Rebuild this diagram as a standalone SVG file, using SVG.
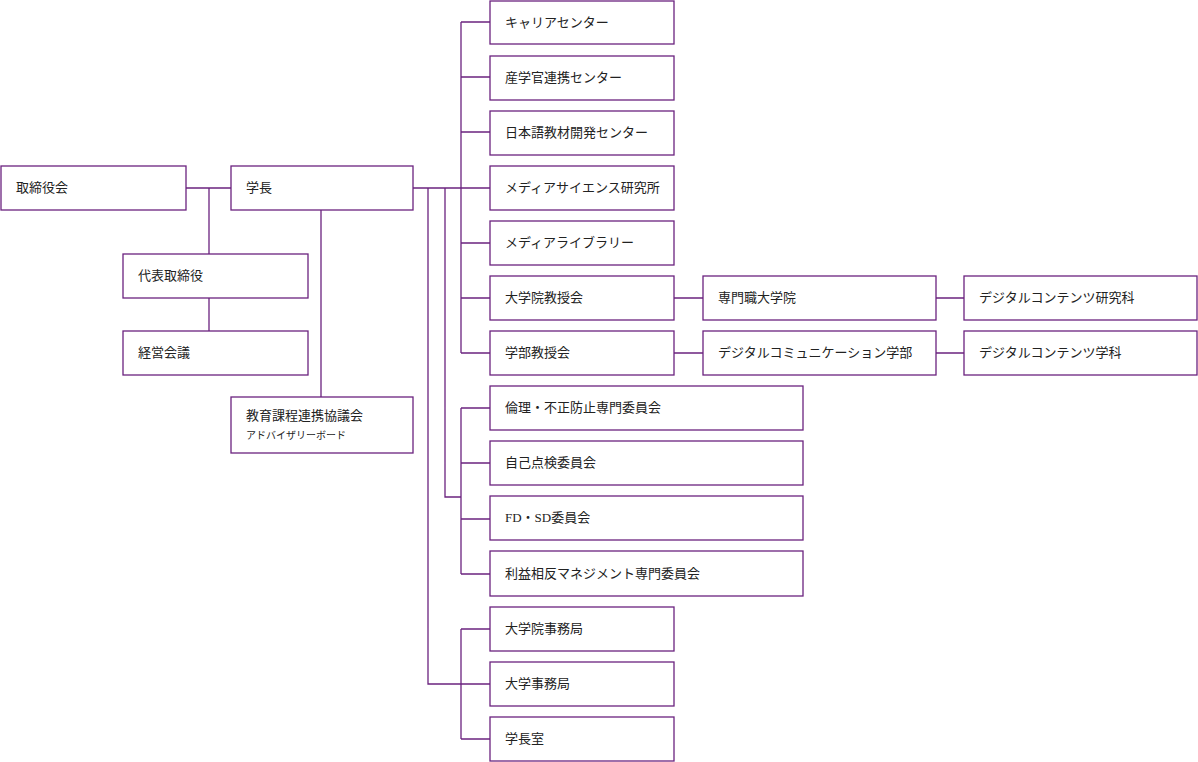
<svg xmlns="http://www.w3.org/2000/svg" width="1198" height="762" viewBox="0 0 1198 762">
<style>
rect{fill:#fff;stroke:#6b237f;stroke-width:1.3}
.c path{fill:none;stroke:#6b237f;stroke-width:1.3}
text{font-family:"Liberation Serif","Noto Sans CJK JP",serif;font-size:13px;fill:#222}
.s{font-size:10px}
</style>
<rect x="0" y="0" width="1198" height="762" style="stroke:none"/>
<g class="c">
<path d="M186 188H231M209 188V254M209 298V331M321 210V397"/>
<path d="M413 188H490M461 22V353M461 22H490M461 77H490M461 132H490M461 243H490M461 298H490M461 353H490"/>
<path d="M445 188V497H461M461 408V574M461 408H490M461 463H490M461 519H490M461 574H490"/>
<path d="M428 188V684H490M461 629V739M461 629H490M461 739H490"/>
<path d="M674 298H703M936 298H964M674 353H703M936 353H964"/>
</g>
<g id="n1"><rect x="1" y="166" width="185" height="44"/><text x="16" y="192">取締役会</text></g>
<g id="n2"><rect x="231" y="166" width="182" height="44"/><text x="246" y="192">学長</text></g>
<g id="n3"><rect x="123" y="254" width="185" height="44"/><text x="138" y="280">代表取締役</text></g>
<g id="n4"><rect x="123" y="331" width="185" height="44"/><text x="138" y="357">経営会議</text></g>
<g id="n5"><rect x="231" y="397" width="182" height="56"/><text x="246" y="420">教育課程連携協議会</text><text class="s" x="246" y="439">アドバイザリーボード</text></g>
<g id="r1"><rect x="490" y="1" width="184" height="43"/><text x="505" y="27">キャリアセンター</text></g>
<g id="r2"><rect x="490" y="56" width="184" height="44"/><text x="505" y="82">産学官連携センター</text></g>
<g id="r3"><rect x="490" y="111" width="184" height="44"/><text x="505" y="137">日本語教材開発センター</text></g>
<g id="r4"><rect x="490" y="166" width="184" height="44"/><text x="505" y="192">メディアサイエンス研究所</text></g>
<g id="r5"><rect x="490" y="221" width="184" height="44"/><text x="505" y="247">メディアライブラリー</text></g>
<g id="r6"><rect x="490" y="276" width="184" height="44"/><text x="505" y="302">大学院教授会</text></g>
<g id="r7"><rect x="490" y="331" width="184" height="44"/><text x="505" y="357">学部教授会</text></g>
<g id="m1"><rect x="703" y="276" width="233" height="44"/><text x="718" y="302">専門職大学院</text></g>
<g id="m2"><rect x="703" y="331" width="233" height="44"/><text x="718" y="357">デジタルコミュニケーション学部</text></g>
<g id="f1"><rect x="964" y="276" width="233" height="44"/><text x="979" y="302">デジタルコンテンツ研究科</text></g>
<g id="f2"><rect x="964" y="331" width="233" height="44"/><text x="979" y="357">デジタルコンテンツ学科</text></g>
<g id="k1"><rect x="490" y="386" width="313" height="44"/><text x="505" y="412">倫理・不正防止専門委員会</text></g>
<g id="k2"><rect x="490" y="441" width="313" height="44"/><text x="505" y="467">自己点検委員会</text></g>
<g id="k3"><rect x="490" y="496" width="313" height="44"/><text x="505" y="522">FD・SD委員会</text></g>
<g id="k4"><rect x="490" y="551" width="313" height="45"/><text x="505" y="578">利益相反マネジメント専門委員会</text></g>
<g id="b1"><rect x="490" y="607" width="184" height="44"/><text x="505" y="633">大学院事務局</text></g>
<g id="b2"><rect x="490" y="662" width="184" height="44"/><text x="505" y="688">大学事務局</text></g>
<g id="b3"><rect x="490" y="717" width="184" height="44"/><text x="505" y="743">学長室</text></g>
</svg>
